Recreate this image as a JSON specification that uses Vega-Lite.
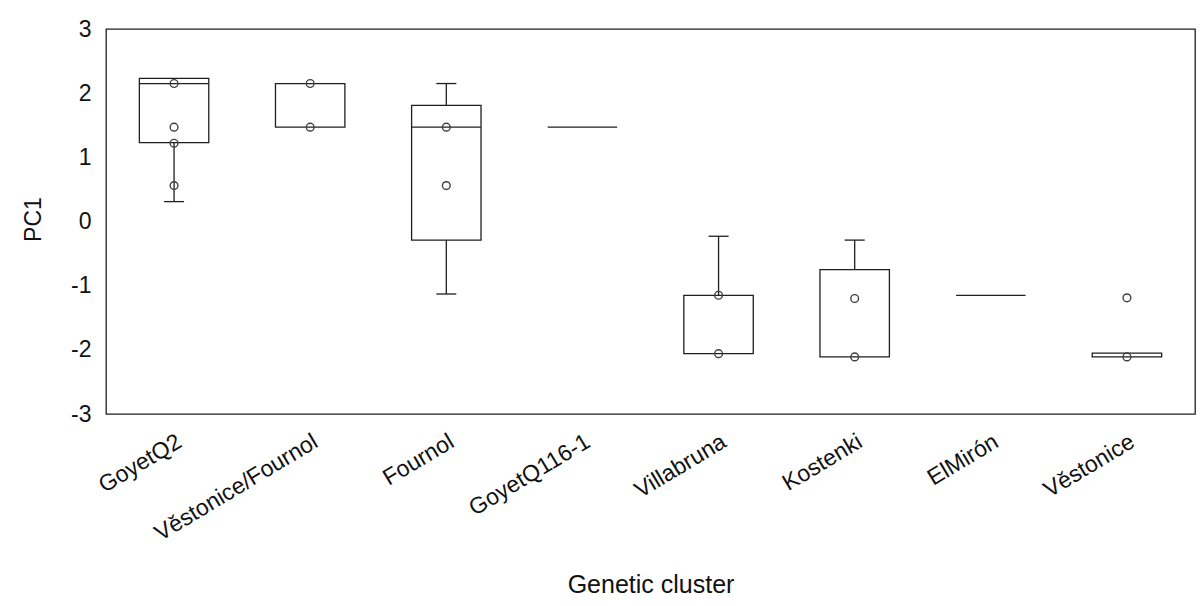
{
  "$schema": "https://vega.github.io/schema/vega-lite/v6.json",
  "autosize": "none",
  "width": 1089,
  "height": 385,
  "padding": {"left": 106, "top": 29, "right": 7, "bottom": 192},
  "background": "white",
  "datasets": {
    "boxes": [
      {"cluster": "GoyetQ2", "q1": 1.23, "q3": 2.23},
      {"cluster": "Věstonice/Fournol", "q1": 1.47, "q3": 2.15},
      {"cluster": "Fournol", "q1": -0.29, "q3": 1.81},
      {"cluster": "GoyetQ116-1", "q1": 1.47, "q3": 1.47},
      {"cluster": "Villabruna", "q1": -2.06, "q3": -1.15},
      {"cluster": "Kostenki", "q1": -2.11, "q3": -0.75},
      {"cluster": "ElMirón", "q1": -1.15, "q3": -1.15},
      {"cluster": "Věstonice", "q1": -2.11, "q3": -2.05}
    ],
    "medians": [
      {"cluster": "GoyetQ2", "median": 2.15},
      {"cluster": "Fournol", "median": 1.47}
    ],
    "whiskers": [
      {"cluster": "GoyetQ2", "edge": 1.23, "end": 0.31},
      {"cluster": "Fournol", "edge": 1.81, "end": 2.15},
      {"cluster": "Fournol", "edge": -0.29, "end": -1.13},
      {"cluster": "Villabruna", "edge": -1.15, "end": -0.23},
      {"cluster": "Kostenki", "edge": -0.75, "end": -0.29}
    ],
    "points": [
      {"cluster": "GoyetQ2", "pc1": 2.15},
      {"cluster": "GoyetQ2", "pc1": 1.47},
      {"cluster": "GoyetQ2", "pc1": 1.22},
      {"cluster": "GoyetQ2", "pc1": 0.56},
      {"cluster": "Věstonice/Fournol", "pc1": 2.15},
      {"cluster": "Věstonice/Fournol", "pc1": 1.47},
      {"cluster": "Fournol", "pc1": 1.47},
      {"cluster": "Fournol", "pc1": 0.56},
      {"cluster": "Villabruna", "pc1": -1.15},
      {"cluster": "Villabruna", "pc1": -2.06},
      {"cluster": "Kostenki", "pc1": -1.2},
      {"cluster": "Kostenki", "pc1": -2.11},
      {"cluster": "Věstonice", "pc1": -1.19},
      {"cluster": "Věstonice", "pc1": -2.11}
    ]
  },
  "encoding": {
    "x": {
      "field": "cluster",
      "type": "nominal",
      "sort": ["GoyetQ2", "Věstonice/Fournol", "Fournol", "GoyetQ116-1", "Villabruna", "Kostenki", "ElMirón", "Věstonice"],
      "scale": {"paddingInner": 0, "paddingOuter": 0},
      "axis": {
        "title": "Genetic cluster",
        "labelAngle": -31,
        "labelAlign": "right",
        "labelBaseline": "top",
        "labelPadding": 16,
        "labelFontSize": 23,
        "labelLimit": 0,
        "ticks": false,
        "domain": false,
        "titleFontSize": 25,
        "titleY": 178,
        "titleBaseline": "alphabetic"
      }
    }
  },
  "layer": [
    {
      "data": {"name": "boxes"},
      "mark": {"type": "bar", "width": {"band": 0.51}, "fill": "white", "fillOpacity": 0, "stroke": "#1f1f1f", "strokeWidth": 1.3},
      "encoding": {
        "y": {
          "field": "q1",
          "type": "quantitative",
          "scale": {"domain": [-3, 3], "nice": false, "zero": false},
          "axis": {
            "title": "PC1",
            "values": [-3, -2, -1, 0, 1, 2, 3],
            "labelExpr": "datum.value + ''",
            "grid": false,
            "ticks": false,
            "domain": false,
            "labelPadding": 15,
            "labelFontSize": 23,
            "titleFontSize": 23,
            "titleAngle": -90,
            "titleX": -66,
            "titleY": 190,
            "titleBaseline": "alphabetic"
          }
        },
        "y2": {"field": "q3"}
      }
    },
    {
      "data": {"name": "whiskers"},
      "mark": {"type": "rule", "stroke": "#1f1f1f", "strokeWidth": 1.3},
      "encoding": {
        "y": {"field": "edge", "type": "quantitative"},
        "y2": {"field": "end"}
      }
    },
    {
      "data": {"name": "whiskers"},
      "mark": {"type": "tick", "orient": "horizontal", "size": 20, "thickness": 1.3, "color": "#1f1f1f", "opacity": 1},
      "encoding": {
        "y": {"field": "end", "type": "quantitative"}
      }
    },
    {
      "data": {"name": "medians"},
      "mark": {"type": "tick", "orient": "horizontal", "size": 69, "thickness": 1.3, "color": "#1f1f1f", "opacity": 1},
      "encoding": {
        "y": {"field": "median", "type": "quantitative"}
      }
    },
    {
      "data": {"name": "points"},
      "mark": {"type": "point", "shape": "circle", "filled": false, "size": 60, "stroke": "#404040", "strokeWidth": 1.4, "opacity": 1},
      "encoding": {
        "y": {"field": "pc1", "type": "quantitative"}
      }
    }
  ],
  "config": {
    "font": "Liberation Sans",
    "view": {"stroke": "#1f1f1f", "strokeWidth": 1.3},
    "axis": {
      "labelFont": "Liberation Sans",
      "titleFont": "Liberation Sans",
      "labelColor": "#111111",
      "titleColor": "#111111",
      "titleFontWeight": "normal"
    }
  }
}
